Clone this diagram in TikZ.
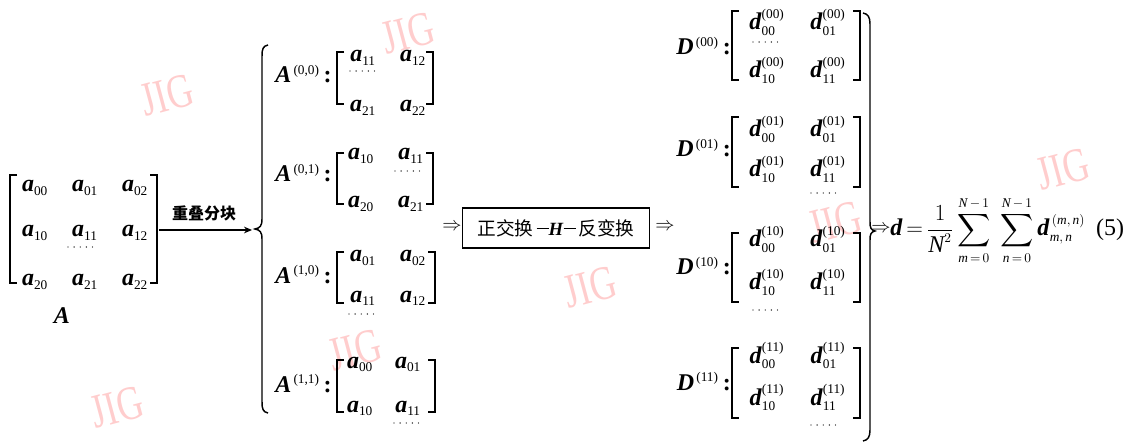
\documentclass[tikz,border=0pt]{standalone}
\usepackage{amsmath}
\usepackage{fontspec}
\setmainfont{Liberation Serif}
\newfontfamily\cjk{Noto Sans CJK SC}
\usetikzlibrary{arrows.meta}
\DeclareMathSizes{18}{18}{10}{7}
\DeclareMathSizes{14}{14}{9}{7}
\definecolor{wm}{RGB}{255,205,205}
\newcommand{\bi}[1]{\textbf{\textit{#1}}}
\newcommand{\ma}[1]{$\text{\bi{a}}_{\text{#1}}$}
\newcommand{\md}[2]{$\text{\bi{d}}^{\text{(#1)}}_{\text{#2}}$}
\newcommand{\lA}[1]{\bi{A}$^{\,\text{(#1)}}$\,\textbf{:}}
\newcommand{\lD}[1]{\bi{D}$^{\,\text{(#1)}}$\,\textbf{:}}
\newcommand{\Lb}[3]{\draw[brk] (#1+7,#2) -- (#1,#2) -- (#1,#3) -- (#1+7,#3);}
\newcommand{\Rb}[3]{\draw[brk] (#1-7,#2) -- (#1,#2) -- (#1,#3) -- (#1-7,#3);}
\tikzset{
  el/.style={inner sep=0pt, anchor=base, font=\fontsize{18}{20}\selectfont},
  lab/.style={inner sep=0pt, anchor=base east, font=\fontsize{18}{20}\selectfont},
  brk/.style={line width=1.5pt},
  brc/.style={line width=1.1pt},
  dotl/.style={line width=1pt, dash pattern=on 0pt off 4.6pt, line cap=round},
  wmk/.style={text=wm, font=\fontsize{36}{36}\selectfont, rotate=15, xscale=0.75, inner sep=0pt},
  arr/.style={line width=0.8pt, -{Stealth[length=6pt,width=5pt]}},
  imp/.style={inner sep=0pt, font=\fontsize{14}{16}\selectfont},
}
\begin{document}
\begin{tikzpicture}[x=0.75pt,y=-0.75pt]
\fill[white] (0,0) rectangle (1138,445);
\useasboundingbox (0,0) rectangle (1138,445);
% watermarks
\node[wmk] (w1) at (167,95) {JIG};
\node[wmk] (w2) at (408,33) {JIG};
\node[wmk] (w3) at (355,350) {JIG};
\node[wmk] (w4) at (590,287) {JIG};
\node[wmk] (w5) at (117,407) {JIG};
\node[wmk] (w6) at (835,222) {JIG};
\node[wmk] (w7) at (1063,169) {JIG};

% matrix A
\Lb{10}{175}{283}
\Rb{157}{175}{283}
\node[el] (a00) at (35,192) {\ma{00}};
\node[el] (a01) at (85,192) {\ma{01}};
\node[el] (a02) at (135,192) {\ma{02}};
\node[el] (a10) at (35,237) {\ma{10}};
\node[el] (a11) at (85,237) {\ma{11}};
\node[el] (a12) at (135,237) {\ma{12}};
\node[el] (a20) at (35,286) {\ma{20}};
\node[el] (a21) at (85,286) {\ma{21}};
\node[el] (a22) at (135,286) {\ma{22}};
\draw[dotl] (68,247) -- (98,247);
\node[el] (Alab) at (62,323) {\bi{A}};

% arrow
\coordinate (Aout) at (159,230);
\coordinate (Bin) at (252,230);
\draw[arr] (Aout) -- (Bin);
\node[inner sep=0pt, font=\cjk\bfseries\fontsize{12}{14}\selectfont] (olab) at (204,213) {重叠分块};

% left brace
\draw[brc] (268,45) .. controls (263,46) and (262,49) .. (262,56) -- (262,219) .. controls (262,226) and (260,228) .. (255,229) .. controls (260,230) and (262,232) .. (262,239) -- (262,402) .. controls (262,409) and (263,412) .. (268,413);

% A00
\node[lab] (LA00) at (332,83) {\lA{0,0}};
\Lb{337}{52}{104}
\Rb{433}{52}{104}
\node[el] (b0011) at (363,62) {\ma{11}};
\node[el] (b0012) at (413,62) {\ma{12}};
\node[el] (b0021) at (363,112) {\ma{21}};
\node[el] (b0022) at (413,112) {\ma{22}};
\draw[dotl] (350,71) -- (378,71);
% A01
\node[lab] (LA01) at (332,182) {\lA{0,1}};
\Lb{337}{153}{204}
\Rb{433}{153}{204}
\node[el] (b0110) at (361,160) {\ma{10}};
\node[el] (b0111) at (411,160) {\ma{11}};
\node[el] (b0120) at (361,208) {\ma{20}};
\node[el] (b0121) at (411,208) {\ma{21}};
\draw[dotl] (395,171) -- (424,171);
% A10
\node[lab] (LA10) at (332,283) {\lA{1,0}};
\Lb{337}{252}{303}
\Rb{435}{252}{303}
\node[el] (b1001) at (363,262) {\ma{01}};
\node[el] (b1002) at (413,262) {\ma{02}};
\node[el] (b1011) at (363,302) {\ma{11}};
\node[el] (b1012) at (413,302) {\ma{12}};
\draw[dotl] (349,314) -- (378,314);
% A11
\node[lab] (LA11) at (332,392) {\lA{1,1}};
\Lb{337}{360}{412}
\Rb{435}{360}{412}
\node[el] (b1100) at (360,368) {\ma{00}};
\node[el] (b1101) at (408,368) {\ma{01}};
\node[el] (b1110) at (360,412) {\ma{10}};
\node[el] (b1111) at (408,412) {\ma{11}};
\draw[dotl] (394,423) -- (423,423);

% transform box
\node[imp] (imp1) at (452,227) {$\Rightarrow$};
\node[draw, line width=0.8pt, minimum width=140pt, minimum height=30pt, inner sep=0pt, font=\fontsize{14}{16}\selectfont] (box) at (556,228)
  {{\cjk 正交换}\,\textbf{\rule[4.5pt]{9pt}{1.2pt}\textit{H}\rule[4.5pt]{9pt}{1.2pt}}\,{\cjk 反变换}};
\node[imp] (imp2) at (665,227) {$\Rightarrow$};

% D00
\node[lab] (LD00) at (731,55) {\lD{00}};
\Lb{732}{11}{80}
\Rb{860}{11}{80}
\node[el] (d0000) at (767,30) {\md{00}{00}};
\node[el] (d0001) at (828,30) {\md{00}{01}};
\node[el] (d0010) at (767,78) {\md{00}{10}};
\node[el] (d0011) at (828,78) {\md{00}{11}};
\draw[dotl] (753,42) -- (778,42);
% D01
\node[lab] (LD01) at (731,157) {\lD{01}};
\Lb{732}{117}{187}
\Rb{860}{117}{187}
\node[el] (d0100) at (767,137) {\md{01}{00}};
\node[el] (d0101) at (828,137) {\md{01}{01}};
\node[el] (d0110) at (767,177) {\md{01}{10}};
\node[el] (d0111) at (828,177) {\md{01}{11}};
\draw[dotl] (811,193) -- (840,193);
% D10
\node[lab] (LD10) at (731,275) {\lD{10}};
\Lb{732}{233}{302}
\Rb{860}{233}{302}
\node[el] (d1000) at (767,247) {\md{10}{00}};
\node[el] (d1001) at (828,247) {\md{10}{01}};
\node[el] (d1010) at (767,290) {\md{10}{10}};
\node[el] (d1011) at (828,290) {\md{10}{11}};
\draw[dotl] (753,310) -- (778,310);
% D11
\node[lab] (LD11) at (731,390) {\lD{11}};
\Lb{732}{348}{418}
\Rb{860}{348}{418}
\node[el] (d1100) at (767,363) {\md{11}{00}};
\node[el] (d1101) at (828,363) {\md{11}{01}};
\node[el] (d1110) at (767,405) {\md{11}{10}};
\node[el] (d1111) at (828,405) {\md{11}{11}};
\draw[dotl] (811,425) -- (840,425);

% right brace
\draw[brc] (863,13) .. controls (868,14) and (870,17) .. (870,24) -- (870,222) .. controls (870,228) and (871,230) .. (875,231) .. controls (871,232) and (870,234) .. (870,240) -- (870,430) .. controls (870,437) and (868,440) .. (863,441);

\node[imp] (imp3) at (881,229) {$\Rightarrow$};
\node[inner sep=0pt, anchor=base west, font=\fontsize{18}{20}\selectfont] (F) at (890,236)
 {$\displaystyle \text{\bi{d}}\,{=}\,\frac{1}{\text{\itshape N}^{2}}\sum_{\text{\itshape m}\,=\,0}^{\text{\itshape N}\,-\,1}\ \sum_{\text{\itshape n}\,=\,0}^{\text{\itshape N}\,-\,1} \text{\bi{d}}^{\,(\text{\itshape m},\,\text{\itshape n})}_{\text{\itshape m},\,\text{\itshape n}}$};
\node[el] (eq) at (1110,236) {(5)};
\end{tikzpicture}
\end{document}
